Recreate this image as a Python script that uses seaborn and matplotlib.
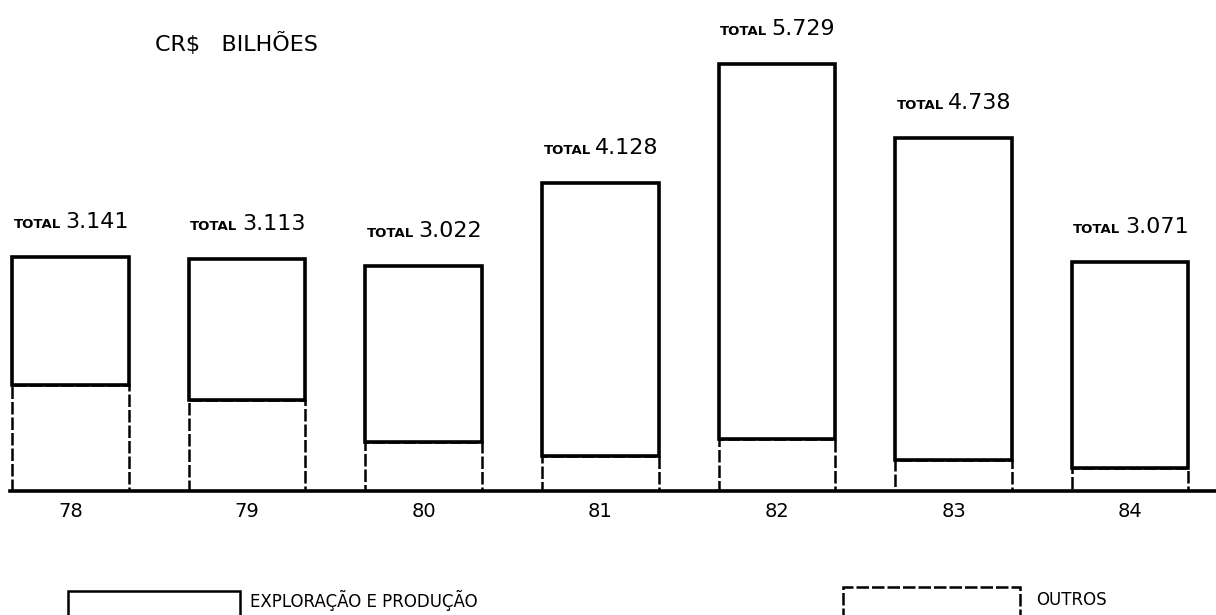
import numpy as np
import pandas as pd
import matplotlib
matplotlib.use("Agg")
import matplotlib.pyplot as plt
from matplotlib.patches import Rectangle
import seaborn as sns

# Investimentos por ano (CR$ bilhões)
anos = ["78", "79", "80", "81", "82", "83", "84"]
totais = [3.141, 3.113, 3.022, 4.128, 5.729, 4.738, 3.071]
outros = [1.42, 1.22, 0.66, 0.47, 0.70, 0.42, 0.31]
exploracao = [t - o for t, o in zip(totais, outros)]

sns.set_style("white")
plt.rcParams["font.family"] = ["DejaVu Sans"]

W, H = 1216, 615
fig = plt.figure(figsize=(W / 100, H / 100), dpi=100)
fig.patch.set_facecolor("white")
ax = fig.add_axes([10 / W, 124 / H, 1206 / W, 491 / H])
ax.set_facecolor("white")

df = pd.DataFrame({"ano": anos, "outros": outros})
bar_w = 0.66
rough = (0, (5, 1.2))

# lower segment: "outros" with a rough broken outline
sns.barplot(data=df, x="ano", y="outros", ax=ax, width=bar_w,
            color="white", edgecolor="black", linewidth=1.8,
            linestyle=rough, saturation=1, zorder=2)

# upper segment: "exploração e produção" with a heavy solid outline
pos = np.arange(len(anos))
ax.bar(pos, exploracao, bottom=outros, width=bar_w, color="white",
       edgecolor="black", linewidth=2.6, zorder=3)

# total labels above each bar
for i, t in enumerate(totais):
    ax.annotate("TOTAL", xy=(i - bar_w / 2, t), xytext=(1, 21),
                textcoords="offset points", ha="left", va="baseline",
                fontsize=9.5, fontweight="bold", color="black",
                family=["Liberation Sans Narrow", "DejaVu Sans"])
    ax.annotate(f"{t:.3f}", xy=(i + bar_w / 2, t), xytext=(0, 21),
                textcoords="offset points", ha="right", va="baseline",
                fontsize=16, color="black",
                family=["Liberation Sans Narrow", "DejaVu Sans"])

ax.set_xlim(-0.343, 6.486)
ax.set_ylim(0, 6.59)
ax.set_xlabel("")
ax.set_ylabel("")
ax.set_yticks([])
ax.tick_params(axis="x", length=0, pad=8, labelsize=14, labelcolor="black")
for side in ["top", "left", "right"]:
    ax.spines[side].set_visible(False)
ax.spines["bottom"].set_linewidth(2.6)
ax.spines["bottom"].set_color("black")
ax.spines["bottom"].set_zorder(5)

# unit caption
fig.text(155 / W, 1 - 43 / H, "CR$   BILHÕES", ha="left", va="center",
         fontsize=16, color="black")

# legend swatches along the bottom edge
fig.add_artist(Rectangle((68 / W, -0.05), 172 / W, 0.05 + 24 / H,
                         transform=fig.transFigure, facecolor="white",
                         edgecolor="black", linewidth=1.8))
fig.text(250 / W, 15 / H, "EXPLORAÇÃO E PRODUÇÃO", ha="left", va="center",
         fontsize=12, color="black")
fig.add_artist(Rectangle((843 / W, -0.05), 177 / W, 0.05 + 28 / H,
                         transform=fig.transFigure, facecolor="white",
                         edgecolor="black", linewidth=1.8,
                         linestyle=rough))
fig.text(1036 / W, 15 / H, "OUTROS", ha="left", va="center",
         fontsize=12, color="black")

fig.savefig("out.png", dpi=100, facecolor="white")
